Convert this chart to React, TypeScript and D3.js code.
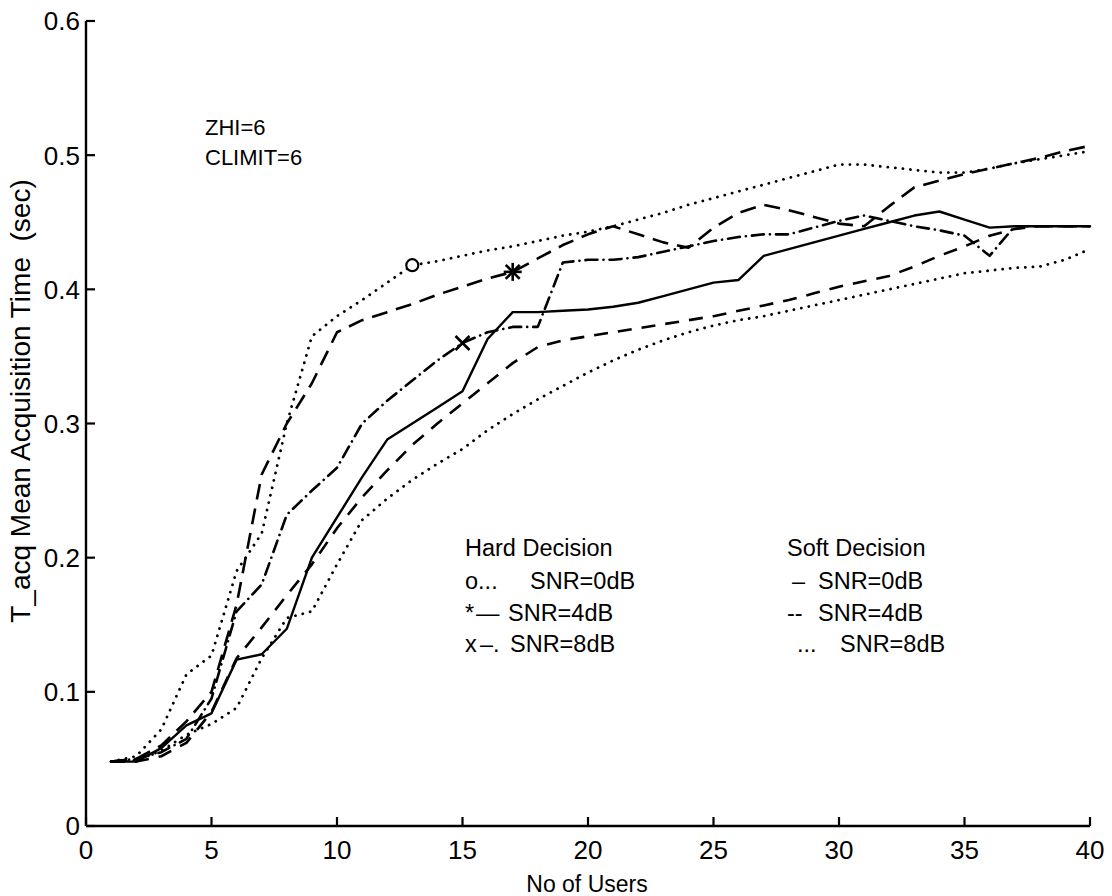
import React from "react";
import * as d3 from "d3";

// number of users on the x axis
const users = d3.range(1, 41);

// hard decision curves
const hard0dB = [0.048, 0.052, 0.072, 0.113, 0.127, 0.19, 0.218, 0.3, 0.365, 0.38, 0.392, 0.405, 0.418, 0.421, 0.425, 0.429, 0.432, 0.436, 0.44, 0.443, 0.447, 0.452, 0.457, 0.463, 0.468, 0.473, 0.478, 0.483, 0.488, 0.493, 0.493, 0.491, 0.489, 0.487, 0.487, 0.49, 0.494, 0.497, 0.5, 0.503];
const hard4dB = [0.048, 0.05, 0.06, 0.078, 0.1, 0.165, 0.262, 0.3, 0.33, 0.368, 0.377, 0.383, 0.389, 0.396, 0.402, 0.408, 0.413, 0.423, 0.433, 0.441, 0.447, 0.441, 0.435, 0.431, 0.446, 0.457, 0.463, 0.459, 0.454, 0.449, 0.447, 0.462, 0.476, 0.481, 0.486, 0.49, 0.494, 0.498, 0.503, 0.507];
const hard8dB = [0.048, 0.05, 0.055, 0.065, 0.095, 0.16, 0.18, 0.232, 0.25, 0.267, 0.3, 0.317, 0.332, 0.347, 0.36, 0.368, 0.372, 0.372, 0.42, 0.422, 0.422, 0.424, 0.428, 0.432, 0.436, 0.439, 0.441, 0.441, 0.446, 0.451, 0.455, 0.451, 0.447, 0.444, 0.44, 0.425, 0.447, 0.447, 0.447, 0.447];

// soft decision curves
const soft0dB = [0.048, 0.048, 0.058, 0.075, 0.084, 0.124, 0.128, 0.147, 0.2, 0.23, 0.26, 0.288, 0.3, 0.312, 0.324, 0.363, 0.383, 0.383, 0.384, 0.385, 0.387, 0.39, 0.395, 0.4, 0.405, 0.407, 0.425, 0.43, 0.435, 0.44, 0.445, 0.45, 0.455, 0.458, 0.452, 0.446, 0.447, 0.447, 0.447, 0.447];
const soft4dB = [0.048, 0.048, 0.052, 0.062, 0.085, 0.125, 0.148, 0.172, 0.195, 0.222, 0.245, 0.265, 0.284, 0.3, 0.315, 0.33, 0.345, 0.357, 0.362, 0.365, 0.368, 0.371, 0.374, 0.377, 0.38, 0.384, 0.388, 0.392, 0.397, 0.402, 0.406, 0.41, 0.417, 0.425, 0.432, 0.44, 0.445, 0.447, 0.447, 0.447];
const soft8dB = [0.048, 0.049, 0.056, 0.068, 0.076, 0.088, 0.125, 0.155, 0.16, 0.195, 0.228, 0.244, 0.258, 0.27, 0.281, 0.295, 0.307, 0.318, 0.328, 0.338, 0.347, 0.355, 0.362, 0.368, 0.373, 0.377, 0.38, 0.384, 0.388, 0.392, 0.396, 0.4, 0.404, 0.408, 0.412, 0.414, 0.416, 0.417, 0.422, 0.43];

const xTicks = [0, 5, 10, 15, 20, 25, 30, 35, 40];
const yTicks = [0, 0.1, 0.2, 0.3, 0.4, 0.5, 0.6];

// one marker per hard-decision curve
const markerUsers = { o: 13, star: 17, x: 15 };

const FONT = "'Liberation Sans', Arial, Helvetica, sans-serif";

export default function App() {
  const width = 1112;
  const height = 896;

  const x = d3.scaleLinear().domain([0, 40]).range([86, 1090]);
  const y = d3.scaleLinear().domain([0, 0.6]).range([826, 21]);

  const line = d3
    .line<number>()
    .x((_, i) => x(users[i]))
    .y((d) => y(d));

  const series = [
    { values: hard0dB, dash: "0.1 7.5", w: 2.8, cap: "round" },
    { values: hard4dB, dash: "16 9", w: 2.6, cap: "butt" },
    { values: hard8dB, dash: "12 6 0.1 6", w: 2.6, cap: "round" },
    { values: soft0dB, dash: null, w: 2.4, cap: "butt" },
    { values: soft4dB, dash: "14 10", w: 2.6, cap: "butt" },
    { values: soft8dB, dash: "0.1 7.5", w: 2.8, cap: "round" },
  ];

  const oX = x(markerUsers.o);
  const oY = y(hard0dB[markerUsers.o - 1]);
  const sX = x(markerUsers.star);
  const sY = y(hard4dB[markerUsers.star - 1]);
  const xX = x(markerUsers.x);
  const xY = y(hard8dB[markerUsers.x - 1]);

  const textStyle = { fontFamily: FONT, fill: "#000" };

  return (
    <svg
      width={width}
      height={height}
      style={{ position: "absolute", left: 0, top: 0, background: "#fff" }}
    >
      {/* axes */}
      <line x1={x(0)} x2={x(0)} y1={y(0.6)} y2={y(0)} stroke="#000" strokeWidth={2.4} />
      <line x1={x(0)} x2={x(40)} y1={y(0)} y2={y(0)} stroke="#000" strokeWidth={2.4} />
      {yTicks.map((t) => (
        <g key={"y" + t}>
          <line x1={x(0)} x2={x(0) + 9} y1={y(t)} y2={y(t)} stroke="#000" strokeWidth={2.2} />
          <text
            x={x(0) - 6}
            y={y(t)}
            dy="0.36em"
            textAnchor="end"
            fontSize={26}
            style={textStyle}
          >
            {t === 0 ? "0" : d3.format(".1f")(t)}
          </text>
        </g>
      ))}
      {xTicks.map((t) => (
        <g key={"x" + t}>
          <line x1={x(t)} x2={x(t)} y1={y(0)} y2={y(0) - 9} stroke="#000" strokeWidth={2.2} />
          <text x={x(t)} y={y(0) + 33} textAnchor="middle" fontSize={26} style={textStyle}>
            {t}
          </text>
        </g>
      ))}
      <text x={587} y={892} textAnchor="middle" fontSize={23} style={textStyle}>
        No of Users
      </text>
      <text
        transform={`translate(30, 401) rotate(-90)`}
        textAnchor="middle"
        fontSize={28}
        style={{ ...textStyle, whiteSpace: "pre" }}
      >
        {"T_acq Mean Acquisition Time  (sec)"}
      </text>

      {/* curves */}
      {series.map((s, i) => (
        <path
          key={i}
          d={line(s.values) || ""}
          fill="none"
          stroke="#000"
          strokeWidth={s.w}
          strokeDasharray={s.dash || undefined}
          strokeLinecap={s.cap as any}
          strokeLinejoin="round"
        />
      ))}

      {/* markers */}
      <circle cx={oX} cy={oY} r={6} fill="#fff" stroke="#000" strokeWidth={2.2} />
      <g stroke="#000" strokeWidth={2.6}>
        <line x1={sX - 9} x2={sX + 9} y1={sY} y2={sY} />
        <line x1={sX} x2={sX} y1={sY - 9} y2={sY + 9} />
        <line x1={sX - 7} x2={sX + 7} y1={sY - 7} y2={sY + 7} />
        <line x1={sX - 7} x2={sX + 7} y1={sY + 7} y2={sY - 7} />
        <line x1={xX - 7} x2={xX + 7} y1={xY - 7} y2={xY + 7} />
        <line x1={xX - 7} x2={xX + 7} y1={xY + 7} y2={xY - 7} />
      </g>

      {/* parameters */}
      <text x={205} y={135} fontSize={22} style={textStyle}>ZHI=6</text>
      <text x={205} y={165} fontSize={22} style={textStyle}>CLIMIT=6</text>

      {/* legend */}
      <g fontSize={23.5} style={{ ...textStyle, whiteSpace: "pre" }}>
        <text x={465} y={556}>Hard Decision</text>
        <text x={465} y={589}>o...</text>
        <text x={530} y={589}>SNR=0dB</text>
        <text x={465} y={621}>*</text>
        <text x={476} y={621}>—</text>
        <text x={508} y={621}>SNR=4dB</text>
        <text x={465} y={652}>x</text>
        <text x={480} y={652}>–.</text>
        <text x={510} y={652}>SNR=8dB</text>

        <text x={787} y={556}>Soft Decision</text>
        <text x={792} y={589}>–</text>
        <text x={818} y={589}>SNR=0dB</text>
        <text x={787} y={621}>--</text>
        <text x={818} y={621}>SNR=4dB</text>
        <text x={797} y={652}>...</text>
        <text x={840} y={652}>SNR=8dB</text>
      </g>
    </svg>
  );
}
